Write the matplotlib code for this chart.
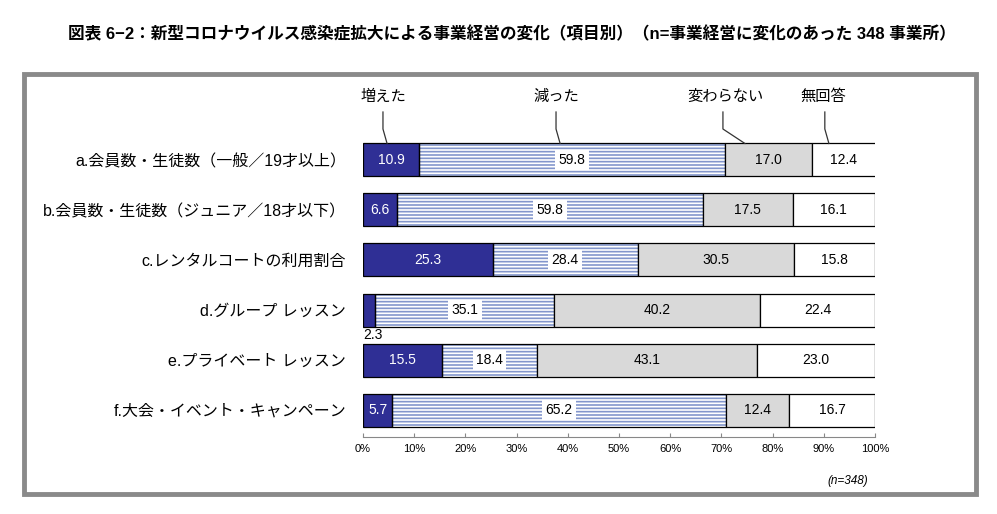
import numpy as np
import matplotlib
matplotlib.use("Agg")
import matplotlib.pyplot as plt
from matplotlib.patches import Rectangle

plt.rcParams['font.family'] = ['Liberation Sans', 'Noto Sans CJK JP', 'DejaVu Sans']
plt.rcParams['hatch.linewidth'] = 1.2

# データ
categories = ['a.会員数・生徒数（一般／19才以上）',
              'b.会員数・生徒数（ジュニア／18才以下）',
              'c.レンタルコートの利用割合',
              'd.グループ レッスン',
              'e.プライベート レッスン',
              'f.大会・イベント・キャンペーン']
series_names = ['増えた', '減った', '変わらない', '無回答']
increased = [10.9, 6.6, 25.3, 2.3, 15.5, 5.7]
decreased = [59.8, 59.8, 28.4, 35.1, 18.4, 65.2]
unchanged = [17.0, 17.5, 30.5, 40.2, 43.1, 12.4]
no_answer = [12.4, 16.1, 15.8, 22.4, 23.0, 16.7]
xticks = [0, 10, 20, 30, 40, 50, 60, 70, 80, 90, 100]
title = '図表 6−2：新型コロナウイルス感染症拡大による事業経営の変化（項目別）（n=事業経営に変化のあった 348 事業所）'
note = '(n=348)'

W, H = 997, 514
fig = plt.figure(figsize=(W / 100, H / 100), dpi=100)

# 外枠
fig.patches.append(Rectangle((23.5 / W, 1 - 494 / H), (976 - 23.5) / W, (494 - 73.5) / H,
                             transform=fig.transFigure, fill=False,
                             edgecolor='#8a8a8a', linewidth=3.5))

fig.text(0.513, 1 - 34 / H, title, ha='center', va='center', fontsize=12, fontweight='bold')

ax = fig.add_axes([363 / W, 1 - 437 / H, 512 / W, (437 - 135) / H])
y = np.arange(len(categories))
h = 0.66
series = [np.array(increased), np.array(decreased), np.array(unchanged), np.array(no_answer)]
colors = ['#2f2f95', 'white', '#d9d9d9', 'white']
left = np.zeros(len(categories))
for k, vals in enumerate(series):
    if k == 1:
        ax.barh(y, vals, left=left, height=h, color='white', edgecolor='#8396cc',
                linewidth=0, hatch='-----', zorder=2)
        ax.barh(y, vals, left=left, height=h, fill=False, edgecolor='black',
                linewidth=0.9, zorder=3)
    else:
        ax.barh(y, vals, left=left, height=h, color=colors[k], edgecolor='black',
                linewidth=0.9, zorder=3)
    for i, v in enumerate(vals):
        cx = left[i] + v / 2
        if k == 0 and v < 4:
            ax.text(left[i], y[i] + 0.5, f'{v:.1f}', ha='left', va='center',
                    fontsize=10, zorder=5)
        elif k == 0:
            ax.text(cx, y[i], f'{v:.1f}', ha='center', va='center', fontsize=10,
                    color='white', zorder=5)
        elif k == 1:
            ax.text(cx, y[i], f'{v:.1f}', ha='center', va='center', fontsize=10,
                    zorder=5, bbox=dict(facecolor='white', edgecolor='none', pad=2.5))
        else:
            ax.text(cx, y[i], f'{v:.1f}', ha='center', va='center', fontsize=10, zorder=5)
    left = left + vals

ax.set_xlim(0, 100)
ax.set_ylim(len(categories) - 0.46, -0.5)
ax.set_yticks(y)
ax.set_yticklabels(categories, fontsize=11.5)
ax.tick_params(axis='y', length=0, pad=12)
ax.set_xticks(xticks)
ax.set_xticklabels([f'{t}%' for t in xticks], fontsize=8)
ax.tick_params(axis='x', direction='in', length=3, color='#888888', pad=5)
for s in ['top', 'right', 'left']:
    ax.spines[s].set_visible(False)
ax.spines['bottom'].set_color('#888888')

# 凡例（引き出し線）
leg_text_x = [3.9, 37.7, 70.7, 89.8]
leg_line_x = [3.9, 37.7, 70.3, 90.2]
leg_end_x = [4.7, 38.5, 74.6, 91.0]
for name, tx, lx, ex in zip(series_names, leg_text_x, leg_line_x, leg_end_x):
    ax.text(tx, -1.26, name, ha='center', va='center', fontsize=11, clip_on=False)
    ax.plot([lx, lx, ex], [-0.96, -0.62, -0.33], color='#333333', lw=0.9,
            clip_on=False, zorder=4)

fig.text(868 / W, 1 - 481 / H, note, ha='right', va='center', fontsize=8.5, style='italic')

fig.savefig('out.png', dpi=100)
